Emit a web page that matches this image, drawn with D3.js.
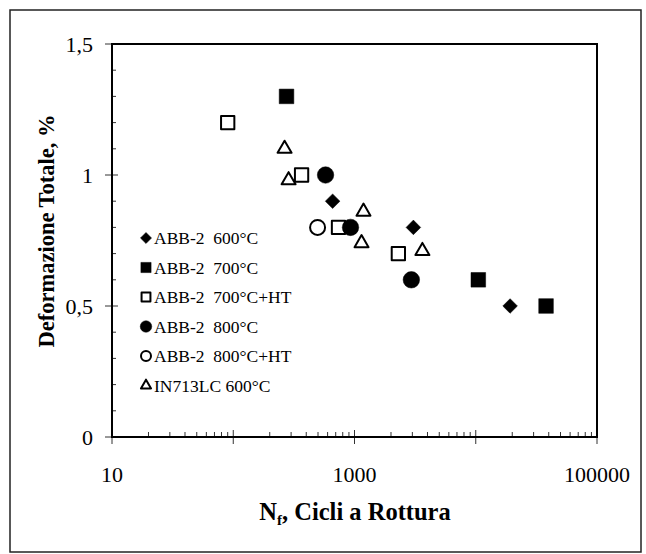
<!DOCTYPE html>
<html><head><meta charset="utf-8">
<script src="https://cdn.jsdelivr.net/npm/d3@7"></script>
<style>body{margin:0;background:#fff}svg{display:block}</style>
</head><body><svg id="c" width="646" height="554"></svg>
<script>
const seriesNames = ["ABB-2  600°C","ABB-2  700°C","ABB-2  700°C+HT","ABB-2  800°C","ABB-2  800°C+HT","IN713LC 600°C"];
const seriesShapes = ["diamond","square","square","circle","circle","triangle"];
const seriesFilled = [true,true,false,true,false,false];
const abb600 = [[660,0.9],[3060,0.8],[19200,0.5]];
const abb700 = [[275,1.3],[10500,0.6],[38000,0.5]];
const abb700ht = [[90,1.2],[366,1.0],[738,0.8],[2300,0.7]];
const abb800 = [[577,1.0],[927,0.8],[2944,0.6]];
const abb800ht = [[496,0.8]];
const in713 = [[265,1.1],[286,0.98],[1186,0.86],[1143,0.74],[3630,0.71]];
const seriesData = [abb600,abb700,abb700ht,abb800,abb800ht,in713];
const xTickLabels = [10,1000,100000];
const yTickLabels = [0,0.5,1,1.5];

const svg = d3.select("#c");
const serif = "'Liberation Serif','Times New Roman',serif";
svg.append("rect").attr("x",10).attr("y",10).attr("width",631).attr("height",542)
  .attr("fill","none").attr("stroke","#222").attr("stroke-width",1.5);

const L=112,R=597,T=44,B=437;
const x = d3.scaleLog().domain([10,100000]).range([L,R]);
const y = d3.scaleLinear().domain([0,1.5]).range([B,T]);

const g = svg.append("g");
const minorX=[];
for(let d=10; d<100000; d*=10) for(let k=2;k<=9;k++) minorX.push(d*k);
g.selectAll(".mx").data(minorX).join("line").attr("x1",d=>x(d)).attr("x2",d=>x(d))
  .attr("y1",B).attr("y2",B-5).attr("stroke","#333").attr("stroke-width",1);
g.selectAll(".Mx").data([10,100,1000,10000,100000]).join("line").attr("x1",d=>x(d)).attr("x2",d=>x(d))
  .attr("y1",B-7).attr("y2",B+7).attr("stroke","#333").attr("stroke-width",1);
const minorY=d3.range(1,15).map(i=>i/10).filter(v=>Math.abs(v*2-Math.round(v*2))>1e-6);
g.selectAll(".my").data(minorY).join("line").attr("y1",d=>y(d)).attr("y2",d=>y(d))
  .attr("x1",L).attr("x2",L+4).attr("stroke","#333").attr("stroke-width",1);
g.selectAll(".My").data(yTickLabels).join("line").attr("y1",d=>y(d)).attr("y2",d=>y(d))
  .attr("x1",L-7).attr("x2",L+6).attr("stroke","#333").attr("stroke-width",1);

svg.append("rect").attr("x",L).attr("y",T).attr("width",R-L).attr("height",B-T)
  .attr("fill","none").attr("stroke","#000").attr("stroke-width",2);

svg.selectAll(".yl").data(yTickLabels).join("text").attr("x",L-19).attr("y",d=>y(d)+8)
  .attr("text-anchor","end").attr("font-family",serif).attr("font-size",22)
  .text(d=>String(d).replace(".",","));
svg.selectAll(".xl").data(xTickLabels).join("text").attr("x",d=>x(d)).attr("y",B+45)
  .attr("text-anchor","middle").attr("font-family",serif).attr("font-size",22).text(d=>d);

const xt = svg.append("text").attr("x",355).attr("y",520).attr("text-anchor","middle")
  .attr("font-family",serif).attr("font-size",24.5).attr("font-weight","bold");
xt.append("tspan").text("N");
xt.append("tspan").attr("font-size",15).attr("dy",5).text("f");
xt.append("tspan").attr("dy",-5).text(", Cicli a Rottura");
svg.append("text").attr("transform","translate(54,231) rotate(-90)").attr("text-anchor","middle")
  .attr("font-family",serif).attr("font-size",22.5).attr("font-weight","bold").text("Deformazione Totale, %");

// w = outer width of marker
function marker(sel, shape, filled, w){
  const sw = filled ? 0.5 : 2;
  const s = w - sw;
  let sym, area;
  if(shape==="diamond"){ sym=d3.symbolDiamond2; area=s*s/2; }
  else if(shape==="square"){ sym=d3.symbolSquare2; area=s*s; }
  else if(shape==="circle"){ sym=d3.symbolCircle; area=Math.PI*s*s/4; }
  else { sym=d3.symbolTriangle2; area=0.433*s*s; }
  sel.append("path").attr("d",d3.symbol(sym, area)())
    .attr("fill",filled?"#000":"#fff").attr("stroke","#000").attr("stroke-width",sw)
    .attr("stroke-linejoin","round");
}
const sizes={diamond:17,square:17,circle:17,triangle:20};
seriesData.forEach((data,i)=>{
  data.forEach(d=>{
    const gg = svg.append("g").attr("transform",`translate(${x(d[0])},${y(d[1])})`);
    marker(gg, seriesShapes[i], seriesFilled[i], sizes[seriesShapes[i]]);
  });
});

const leg = svg.append("g");
seriesNames.forEach((n,i)=>{
  const yy = 238 + i*29.5;
  const gg = leg.append("g").attr("transform",`translate(146,${yy})`);
  marker(gg, seriesShapes[i], seriesFilled[i], shapeLegSize(seriesShapes[i]));
  leg.append("text").attr("x",154).attr("y",yy+6).attr("font-family",serif).attr("font-size",17.5)
    .style("white-space","pre").text(n);
});
function shapeLegSize(s){ return s==="triangle"?15:(s==="diamond"?13:12); }
</script></body></html>
